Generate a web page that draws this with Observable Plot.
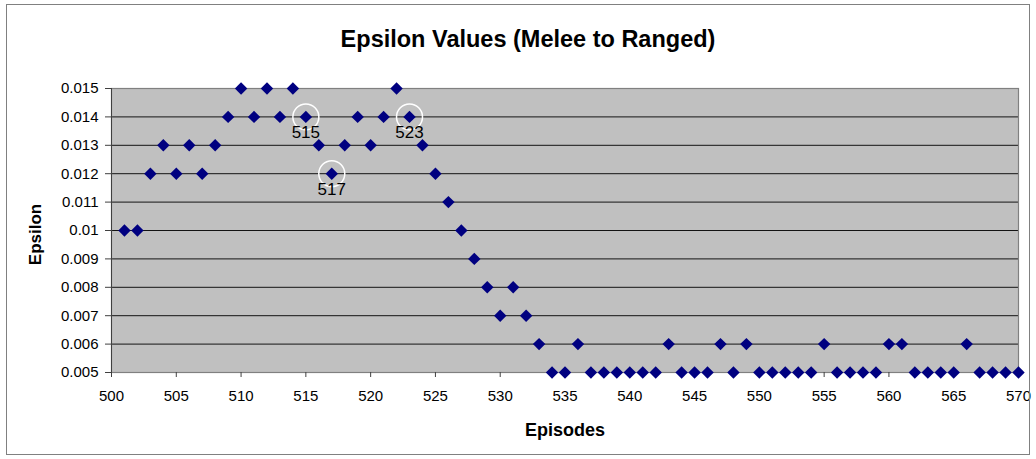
<!DOCTYPE html>
<html>
<head>
<meta charset="utf-8">
<script src="https://cdn.jsdelivr.net/npm/d3@7"></script>
<script src="https://cdn.jsdelivr.net/npm/@observablehq/plot@0.6"></script>
<style>
  html, body { margin: 0; padding: 0; background: #fff; }
  #wrap { position: relative; width: 1036px; height: 459px; }
  #border { position: absolute; left: 6px; top: 4px; width: 1022px; height: 449px; border: 1px solid #808080; pointer-events: none; }
  svg { font-family: "Liberation Sans", Arial, sans-serif; }
</style>
</head>
<body>
<div id="wrap"><div id="border"></div></div>
<script>
const title = "Epsilon Values (Melee to Ranged)";
const xLabel = "Episodes";
const yLabel = "Epsilon";

const episodes = [
  501,502,503,504,505,506,507,508,509,510,
  511,512,513,514,515,516,517,518,519,520,
  521,522,523,524,525,526,527,528,529,530,
  531,532,533,534,535,536,537,538,539,540,
  541,542,543,544,545,546,547,548,549,550,
  551,552,553,554,555,556,557,558,559,560,
  561,562,563,564,565,566,567,568,569,570
];
const epsilon = [
  0.010,0.010,0.012,0.013,0.012,0.013,0.012,0.013,0.014,0.015,
  0.014,0.015,0.014,0.015,0.014,0.013,0.012,0.013,0.014,0.013,
  0.014,0.015,0.014,0.013,0.012,0.011,0.010,0.009,0.008,0.007,
  0.008,0.007,0.006,0.005,0.005,0.006,0.005,0.005,0.005,0.005,
  0.005,0.005,0.006,0.005,0.005,0.005,0.006,0.005,0.006,0.005,
  0.005,0.005,0.005,0.005,0.006,0.005,0.005,0.005,0.005,0.006,
  0.006,0.005,0.005,0.005,0.005,0.006,0.005,0.005,0.005,0.005
];
const highlighted = [515, 517, 523];

const xTicks = [500,505,510,515,520,525,530,535,540,545,550,555,560,565,570];
const yTicks = [0.005,0.006,0.007,0.008,0.009,0.01,0.011,0.012,0.013,0.014,0.015];

const data = episodes.map((e, i) => ({episode: e, epsilon: epsilon[i]}));
const annot = highlighted.map(e => data.find(d => d.episode === e));

const chart = Plot.plot({
  width: 1036,
  height: 459,
  marginLeft: 111,
  marginRight: 18,
  marginTop: 88,
  marginBottom: 87,
  style: {background: "transparent", fontFamily: "'Liberation Sans', Arial, sans-serif"},
  x: {domain: [500, 570], ticks: xTicks, label: null},
  y: {domain: [0.005, 0.015], ticks: yTicks, label: null},
  marks: [
    Plot.frame({fill: "#c0c0c0"}),
    Plot.gridY(yTicks, {stroke: "#000", strokeOpacity: 0.9, strokeWidth: 1}),
    Plot.frame({stroke: "#808080", strokeWidth: 1.2}),
    Plot.ruleX([500], {stroke: "#404040", strokeWidth: 1}),
    Plot.axisY(yTicks, {tickSize: 6, tickPadding: 7, fontSize: 15, fill: "#000", stroke: "#404040", tickFormat: d => String(d), label: null}),
    Plot.axisX(xTicks, {tickSize: 5, tickPadding: 13, fontSize: 15, fill: "#000", stroke: "#404040", label: null}),
    Plot.dot(data, {x: "episode", y: "epsilon", symbol: "diamond2", r: 5.6, fill: "#000080"}),
    Plot.dot(annot, {x: "episode", y: "epsilon", r: 13, stroke: "#fff", strokeWidth: 1.5, fill: "none"}),
    Plot.text(annot, {x: "episode", y: "epsilon", text: d => String(d.episode), dy: 16, fontSize: 17, fill: "#000"}),
    Plot.text([title], {frameAnchor: "top", lineAnchor: "middle", dx: -37, dy: -49, fontSize: 23.5, fontWeight: "bold", fill: "#000"}),
    Plot.text([xLabel], {frameAnchor: "bottom", lineAnchor: "middle", dy: 58, fontSize: 18, fontWeight: "bold", fill: "#000"}),
    Plot.text([yLabel], {frameAnchor: "left", textAnchor: "middle", lineAnchor: "middle", dx: -76, dy: 4, rotate: -90, fontSize: 17, fontWeight: "bold", fill: "#000"})
  ]
});
document.getElementById("wrap").prepend(chart);
</script>
</body>
</html>
